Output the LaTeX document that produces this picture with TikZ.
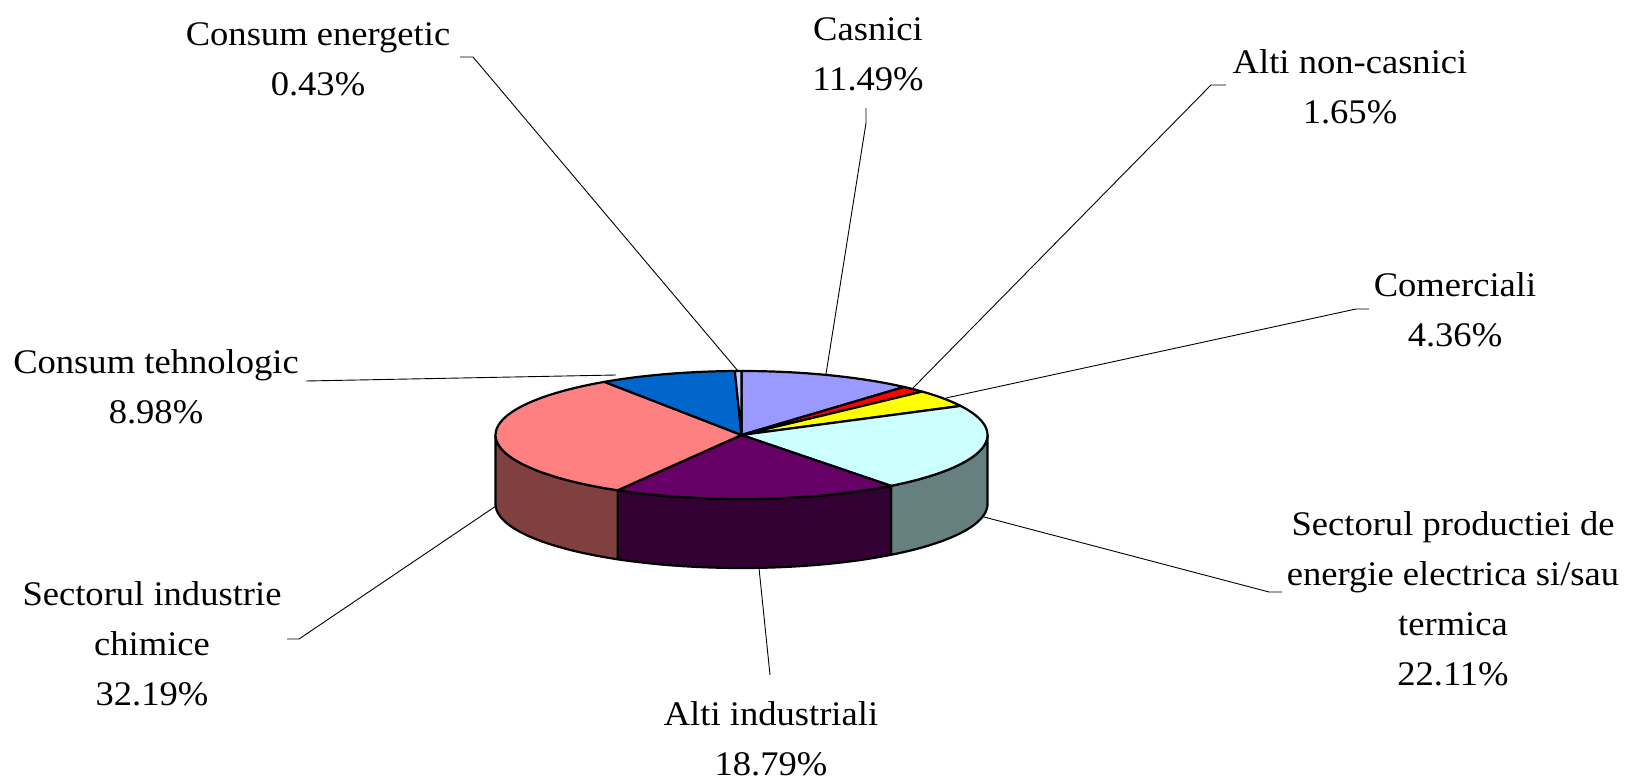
\documentclass[tikz,border=0pt]{standalone}
\usepackage{fontspec}
\setmainfont[FakeStretch=1.06]{Liberation Serif}
\definecolor{cCas}{HTML}{9999FF}
\definecolor{cNon}{HTML}{FF0000}
\definecolor{cCom}{HTML}{FFFF00}
\definecolor{cPro}{HTML}{CCFFFF}
\definecolor{cProS}{HTML}{668080}
\definecolor{cInd}{HTML}{660066}
\definecolor{cIndS}{HTML}{330033}
\definecolor{cChi}{HTML}{FF8080}
\definecolor{cChiS}{HTML}{804040}
\definecolor{cTeh}{HTML}{0066CC}
\definecolor{cEne}{HTML}{CCCCFF}
\newcommand\pcx{741.5}
\newcommand\pcy{435}
\newcommand\pra{246}
\newcommand\prb{64}
\newcommand\pdep{69}
\newcommand\sideface[3]{%
  \filldraw[fill=#3,pieedge] plot[domain=#1:#2,samples=40] ({\pcx+\pra*sin(\x)},{\pcy-\prb*cos(\x)})
    -- plot[domain=#2:#1,samples=40] ({\pcx+\pra*sin(\x)},{\pcy-\prb*cos(\x)+\pdep}) -- cycle;}
\newcommand\topslice[3]{%
  \filldraw[fill=#3,pieedge] (\pcx,\pcy) -- plot[domain=#1:#2,samples=40] ({\pcx+\pra*sin(\x)},{\pcy-\prb*cos(\x)}) -- cycle;}
\begin{document}
\begin{tikzpicture}[x=1pt,y=-1pt,
  pieedge/.style={draw=black,line width=2.2pt,line join=round},
  leader/.style={draw=black,line width=0.9pt},
  lbl/.style={inner sep=0pt,anchor=base,font=\fontsize{34.5}{50}\selectfont}]
\useasboundingbox[fill=white] (0,0) rectangle (1626,778);
% side faces
\sideface{90}{142.596}{cProS}
\sideface{142.596}{210.24}{cIndS}
\sideface{210.24}{270}{cChiS}
% top faces
\topslice{0}{41.364}{cCas}
\topslice{41.364}{47.304}{cNon}
\topslice{47.304}{63}{cCom}
\topslice{63}{142.596}{cPro}
\topslice{142.596}{210.24}{cInd}
\topslice{210.24}{326.124}{cChi}
\topslice{326.124}{358.452}{cTeh}
\topslice{358.452}{360}{cEne}
% labels
\node[lbl] (tEne) at (318,46) {\begin{tabular}[t]{@{}c@{}}Consum energetic\\0.43\%\end{tabular}};
\node[lbl] (tCas) at (868,41) {\begin{tabular}[t]{@{}c@{}}Casnici\\11.49\%\end{tabular}};
\node[lbl] (tNon) at (1350,74) {\begin{tabular}[t]{@{}c@{}}Alti non-casnici\\1.65\%\end{tabular}};
\node[lbl] (tCom) at (1455,297) {\begin{tabular}[t]{@{}c@{}}Comerciali\\4.36\%\end{tabular}};
\node[lbl] (tPro) at (1453,535) {\begin{tabular}[t]{@{}c@{}}Sectorul productiei de\\energie electrica si/sau\\termica\\22.11\%\end{tabular}};
\node[lbl] (tInd) at (771,725) {\begin{tabular}[t]{@{}c@{}}Alti industriali\\18.79\%\end{tabular}};
\node[lbl] (tChi) at (152,605) {\begin{tabular}[t]{@{}c@{}}Sectorul industrie\\chimice\\32.19\%\end{tabular}};
\node[lbl] (tTeh) at (156,373) {\begin{tabular}[t]{@{}c@{}}Consum tehnologic\\8.98\%\end{tabular}};
% leader end points on the pie
\coordinate (pEne) at (738,371);
\coordinate (pCas) at (826,374);
\coordinate (pNon) at (913,388);
\coordinate (pCom) at (946,398);
\coordinate (pPro) at (984,517);
\coordinate (pInd) at (759,568);
\coordinate (pChi) at (496,506);
\coordinate (pTeh) at (616,375);
% leader start points at the labels
\coordinate (kEne) at (460,57);
\coordinate (kCas) at (866,108);
\coordinate (kNon) at (1226,85);
\coordinate (kCom) at (1369,309);
\coordinate (kPro) at (1282,592);
\coordinate (kInd) at (770,675);
\coordinate (kChi) at (287,639);
\coordinate (kTeh) at (306,381);
\draw[leader] (kEne) -- ++(13,0) -- (pEne);
\draw[leader] (kCas) -- ++(0,15) -- (pCas);
\draw[leader] (kNon) -- ++(-15,0) -- (pNon);
\draw[leader] (kCom) -- ++(-13,0) -- (pCom);
\draw[leader] (kPro) -- ++(-13,0) -- (pPro);
\draw[leader] (kInd) -- (pInd);
\draw[leader] (kChi) -- ++(12,0) -- (pChi);
\draw[leader] (kTeh) -- (pTeh);
\end{tikzpicture}
\end{document}
